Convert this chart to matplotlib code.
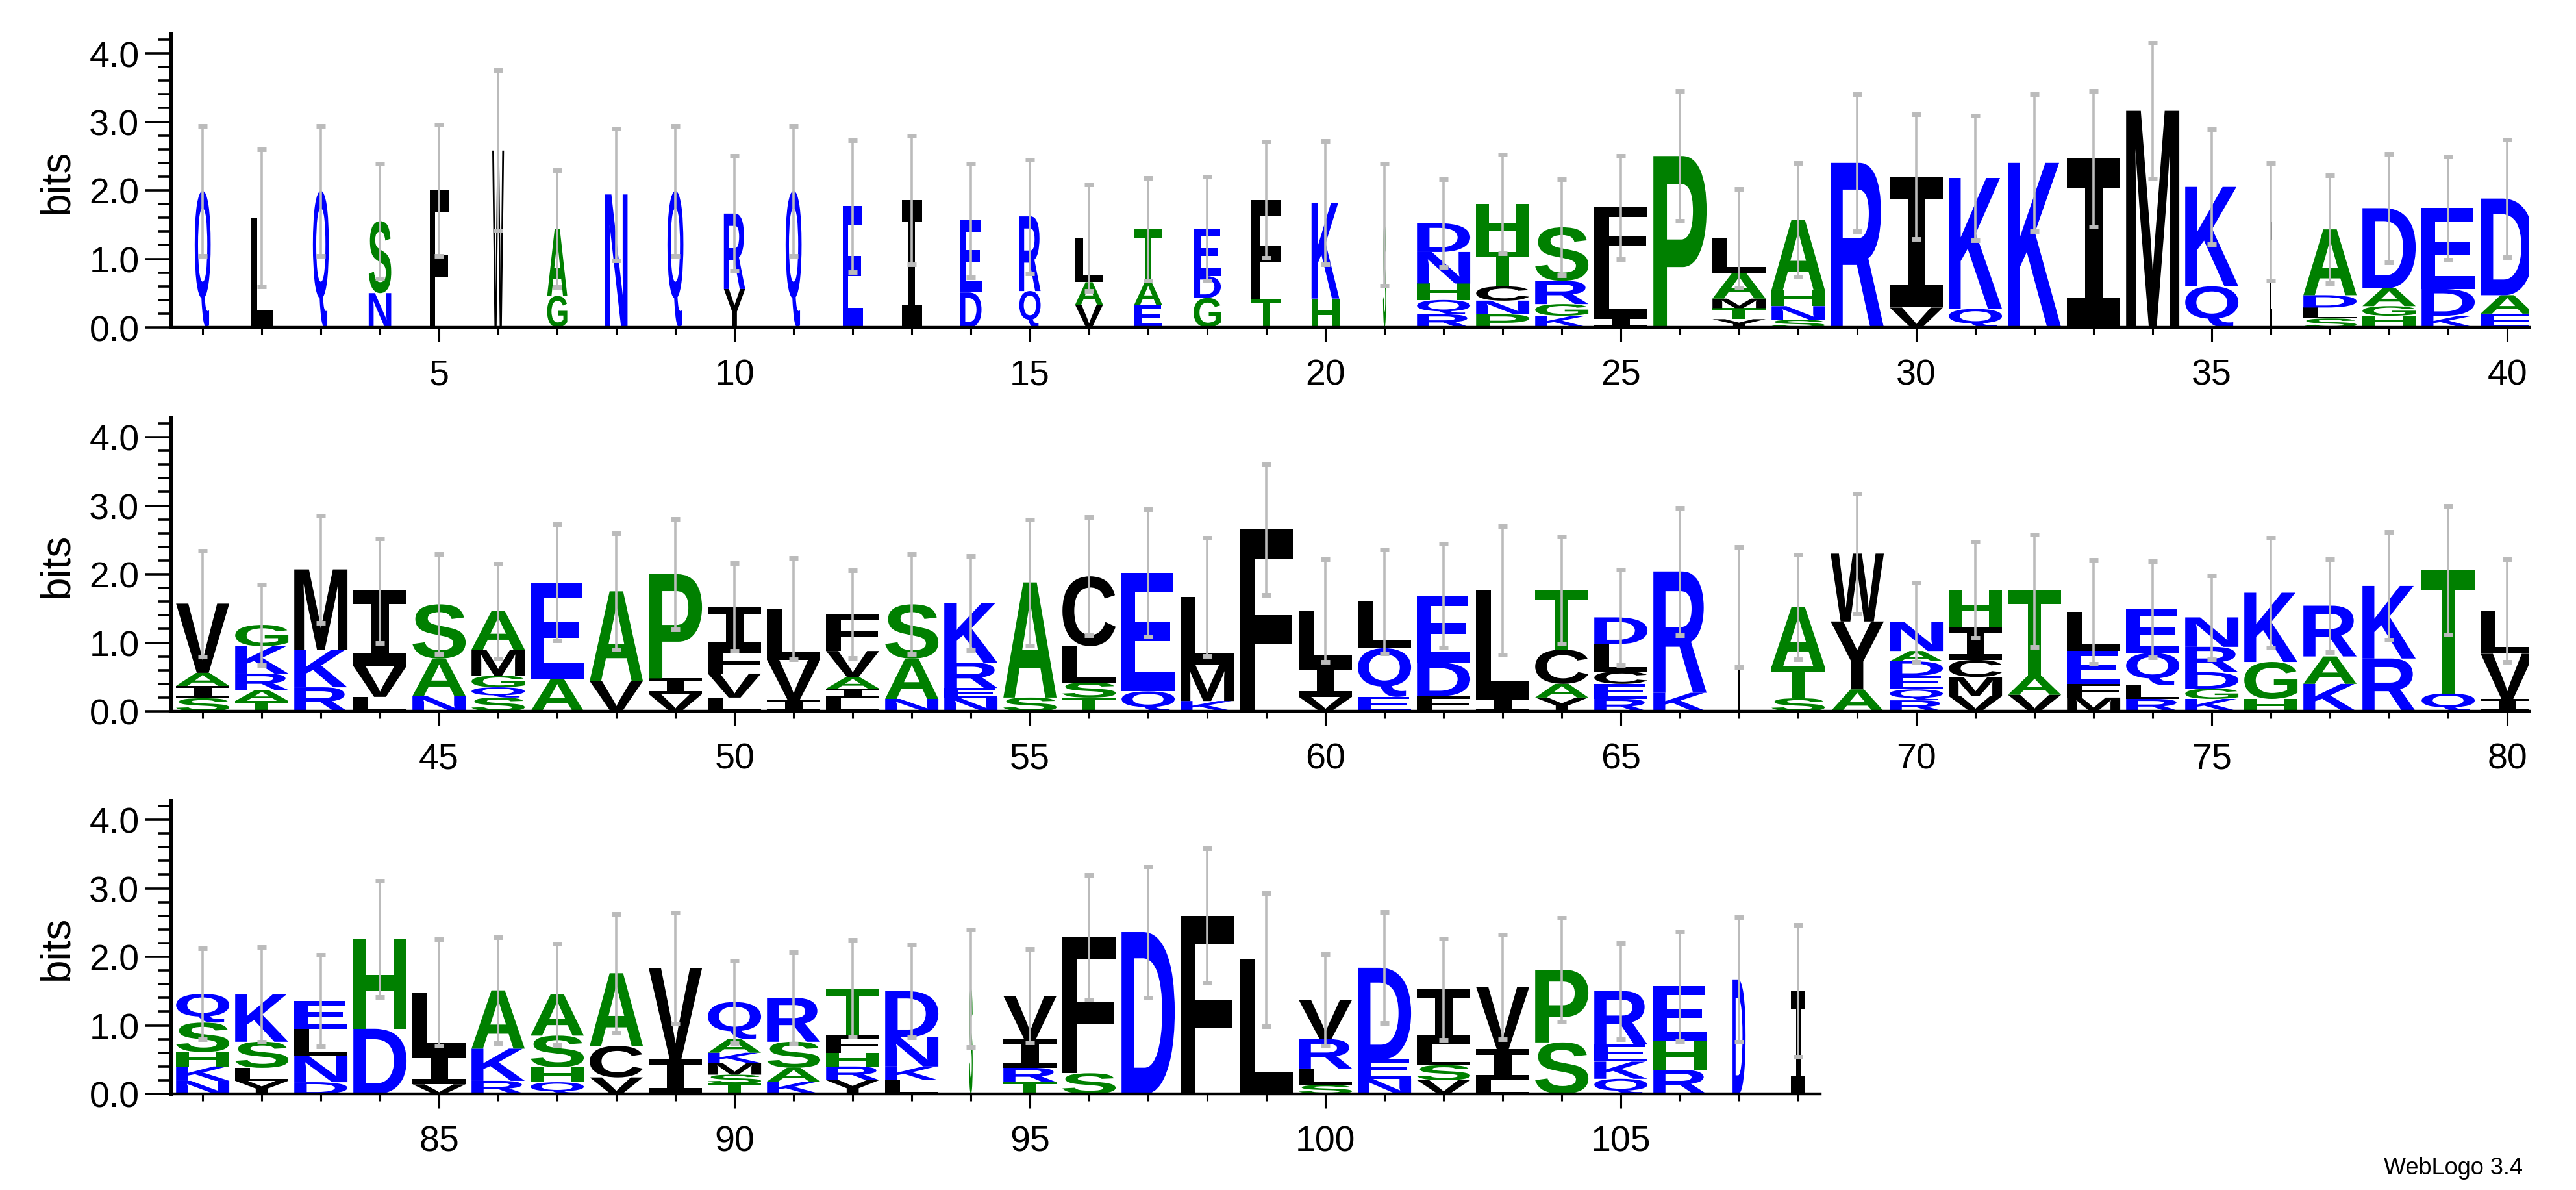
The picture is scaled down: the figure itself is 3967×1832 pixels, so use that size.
import matplotlib
matplotlib.use('Agg')
import matplotlib.pyplot as plt
from matplotlib.textpath import TextPath
from matplotlib.patches import PathPatch
from matplotlib.font_manager import FontProperties
from matplotlib.transforms import Affine2D
from matplotlib.ticker import MultipleLocator

# stacks: letters bottom->top, with cumulative top (bits) of each letter
letters = [
    "Q", "L", "Q", "NS", "F", "W", "GA", "N", "Q", "YR",
    "Q", "E", "I", "DE", "QR", "VAL", "EAT", "GDE", "TF", "HK",
    "S", "RQHND", "PNCTH", "KGRS", "ILF", "P", "YTMAL", "SNHA", "R", "VI",
    "QK", "K", "I", "M", "QK", "I", "SLDA", "HGAD", "KDE", "EAD",
    "SIAV", "TARKG", "RKM", "LVI", "NAS", "SQGMA", "AE", "VA", "VIP", "LVFI",
    "IVL", "LIAVF", "NAS", "NERK", "SA", "TSLC", "QE", "KML", "F", "VIL",
    "EQL", "FDE", "IL", "YACT", "RECLD", "KR", "I", "STA", "AYW", "RQEDAN",
    "VMCIH", "VAT", "MFEL", "RLQE", "KGDRN", "HGK", "KAR", "RK", "QT", "IVL",
    "NKHSQ", "YLSK", "DNLE", "DH", "VIL", "RKA", "QHSA", "VCA", "IV", "TSMKAQ",
    "KASR", "YRHFT", "LKND", "S", "TRIV", "SF", "D", "F", "L", "SLRV",
    "NED", "VSLI", "LIV", "SP", "QKER", "RHE", "D", "I",
]
tops = [
    [1.99], [1.6], [1.99], [0.5, 1.55], [2.0], [2.58], [0.46, 1.44], [1.94], [1.99], [0.56, 1.66],
    [1.99], [1.77], [1.86], [0.51, 1.56], [0.53, 1.62], [0.33, 0.66, 1.31], [0.33, 0.66, 1.43], [0.43, 0.75, 1.44], [0.42, 1.86], [0.42, 1.82],
    [1.5], [0.19, 0.4, 0.64, 1.1, 1.52], [0.19, 0.39, 0.6, 1.1, 1.8], [0.17, 0.34, 0.68, 1.46], [0.15, 0.87, 1.75], [2.5], [0.12, 0.28, 0.42, 0.8, 1.3], [0.11, 0.31, 0.55, 1.57], [2.4], [0.29, 2.2],
    [0.27, 2.18], [2.4], [2.46], [3.16], [0.6, 2.05], [1.54], [0.13, 0.29, 0.47, 1.43], [0.17, 0.31, 0.57, 1.74], [0.17, 0.56, 1.74], [0.2, 0.47, 1.88],
    [0.19, 0.37, 0.56, 1.57], [0.15, 0.31, 0.55, 0.95, 1.26], [0.35, 0.9, 2.07], [0.21, 0.66, 1.76], [0.22, 0.77, 1.56], [0.2, 0.35, 0.52, 0.9, 1.46], [0.47, 1.88], [0.44, 1.75], [0.25, 0.48, 2.0], [0.2, 0.55, 0.9, 1.52],
    [0.16, 0.75, 1.5], [0.2, 0.33, 0.5, 0.88, 1.42], [0.18, 0.77, 1.56], [0.2, 0.34, 0.71, 1.58], [0.2, 1.88], [0.2, 0.42, 0.95, 1.97], [0.29, 2.02], [0.15, 0.68, 1.67], [2.65], [0.21, 0.69, 1.47],
    [0.21, 0.92, 1.6], [0.22, 0.71, 1.69], [0.19, 1.76], [0.2, 0.4, 0.9, 1.77], [0.18, 0.4, 0.58, 0.98, 1.37], [0.27, 2.04], [1.52], [0.19, 0.65, 1.52], [0.32, 1.31, 2.3], [0.16, 0.32, 0.52, 0.73, 0.88, 1.3],
    [0.22, 0.5, 0.75, 1.23, 1.77], [0.24, 0.52, 1.76], [0.2, 0.4, 0.88, 1.45], [0.18, 0.38, 0.85, 1.49], [0.18, 0.33, 0.57, 0.94, 1.37], [0.18, 0.72, 1.73], [0.4, 0.8, 1.54], [0.77, 1.83], [0.26, 2.06], [0.18, 0.84, 1.47],
    [0.19, 0.4, 0.61, 1.04, 1.46], [0.19, 0.38, 0.76, 1.45], [0.17, 0.55, 0.95, 1.36], [0.95, 2.26], [0.14, 0.6, 1.48], [0.19, 0.66, 1.51], [0.17, 0.39, 0.85, 1.45], [0.24, 0.7, 1.76], [0.51, 1.83], [0.15, 0.28, 0.45, 0.6, 0.8, 1.34],
    [0.18, 0.38, 0.76, 1.4], [0.2, 0.4, 0.6, 0.85, 1.54], [0.2, 0.4, 0.83, 1.5], [1.54], [0.17, 0.38, 0.8, 1.43], [0.3, 2.28], [2.36], [2.6], [1.96], [0.13, 0.37, 0.8, 1.37],
    [0.22, 0.5, 1.84], [0.2, 0.42, 0.72, 1.53], [0.2, 0.65, 1.56], [0.75, 1.81], [0.22, 0.47, 0.72, 1.5], [0.35, 0.77, 1.57], [1.67], [1.5],
]
err_top = [
    2.94, 2.6, 2.94, 2.39, 2.96, 3.75, 2.29, 2.9, 2.94, 2.5,
    2.94, 2.73, 2.8, 2.39, 2.45, 2.09, 2.18, 2.2, 2.71, 2.72,
    2.39, 2.16, 2.52, 2.16, 2.5, 3.45, 2.02, 2.4, 3.4, 3.11,
    3.09, 3.4, 3.45, 4.15, 2.89, 2.4, 2.22, 2.53, 2.49, 2.74,
    2.34, 1.85, 2.85, 2.52, 2.29, 2.15, 2.73, 2.6, 2.81, 2.16,
    2.24, 2.06, 2.29, 2.27, 2.8, 2.83, 2.95, 2.53, 3.6, 2.22,
    2.36, 2.45, 2.7, 2.55, 2.07, 2.97, 2.4, 2.28, 3.18, 1.88,
    2.47, 2.58, 2.21, 2.19, 1.98, 2.53, 2.22, 2.62, 3.0, 2.22,
    2.12, 2.14, 2.03, 3.11, 2.26, 2.28, 2.19, 2.63, 2.64, 1.94,
    2.07, 2.25, 2.18, 2.4, 2.11, 3.19, 3.32, 3.58, 2.93, 2.04,
    2.65, 2.27, 2.32, 2.57, 2.2, 2.37, 2.58, 2.46,
]
# stack widths (positions units); columns with fewer sequences are drawn narrower
first_widths = [0.27, 0.38, 0.27, 0.38, 0.32, 0.2, 0.34, 0.38, 0.27, 0.36,
                0.27, 0.34, 0.34, 0.36, 0.36, 0.47, 0.47, 0.46, 0.5, 0.47]
narrow = {21: 0.05, 36: 0.05, 67: 0.05, 94: 0.06, 107: 0.22, 108: 0.24}

colors = {}
for c in "DEKNQR":
    colors[c] = '#0000FF'
for c in "AGHPST":
    colors[c] = '#008000'
for c in "CFILMVWY":
    colors[c] = '#000000'

fp = FontProperties(family='Liberation Sans', weight='bold')
fp_i = FontProperties(family='DejaVu Sans Mono', weight='bold')
glyphs = {}


def stack_width(p):
    if p <= len(first_widths):
        return first_widths[p - 1]
    return narrow.get(p, 0.9)


def draw_letter(ax, ch, x, y0, w, h):
    if ch not in glyphs:
        path = TextPath((0, 0), ch, size=1, prop=fp_i if ch == 'I' else fp)
        glyphs[ch] = (path, path.get_extents())
    path, ext = glyphs[ch]
    tr = (Affine2D().translate(-ext.x0, -ext.y0)
          .scale(w / ext.width, h / ext.height)
          .translate(x - w / 2, y0))
    ax.add_patch(PathPatch(tr.transform_path(path), fc=colors[ch], ec='none', lw=0))


W, H = 3967, 1833
fig = plt.figure(figsize=(W / 100, H / 100), dpi=100)

ppb = 105.5  # pixels per bit
ppp = 91.0   # pixels per position
rows = [(1, 40, 505), (41, 80, 1096), (81, 108, 1685)]

for first, last, base in rows:
    x0, x1 = first - 0.54, last + 0.37
    ymax = 4.28
    ax = fig.add_axes([263 / W, 1 - base / H, (x1 - x0) * ppp / W, ymax * ppb / H])
    ax.set_xlim(x0, x1)
    ax.set_ylim(0, ymax)
    for p in range(first, last + 1):
        i = p - 1
        w = stack_width(p)
        prev = 0.0
        for ch, t in zip(letters[i], tops[i]):
            if t - prev > 0.005:
                draw_letter(ax, ch, p, prev, w, t - prev)
            prev = t
        total = tops[i][-1]
        e = err_top[i] - total
        ax.plot([p, p], [total - e, total + e], color='#BBBBBB', lw=2.6,
                solid_capstyle='butt', zorder=5)
        for yy in (total - e, total + e):
            ax.plot([p - 0.08, p + 0.08], [yy, yy], color='#BBBBBB', lw=5,
                    solid_capstyle='butt', zorder=5)
    for s in ['top', 'right']:
        ax.spines[s].set_visible(False)
    ax.spines['left'].set_linewidth(3.6)
    ax.spines['bottom'].set_linewidth(3.2)
    ax.yaxis.set_minor_locator(MultipleLocator(0.2))
    ax.set_yticks([0, 1, 2, 3, 4])
    ax.set_yticklabels(['0.0', '1.0', '2.0', '3.0', '4.0'])
    ax.xaxis.set_major_locator(MultipleLocator(5))
    ax.xaxis.set_minor_locator(MultipleLocator(1))
    ax.tick_params(axis='y', which='major', length=29, width=2.6, labelsize=40, pad=6)
    ax.tick_params(axis='y', which='minor', length=14, width=2.6)
    ax.tick_params(axis='x', which='major', length=16, width=2.2, labelsize=40, pad=18)
    ax.tick_params(axis='x', which='minor', length=8, width=2.2)
    for lab in ax.get_xticklabels() + ax.get_yticklabels():
        lab.set_fontfamily('Liberation Sans')
    ax.set_ylabel('bits', fontsize=46, family='Liberation Sans', labelpad=14)

fig.text(3885 / W, 1 - 1808 / H, 'WebLogo 3.4', ha='right', va='baseline',
         fontsize=26, family='Liberation Sans')

fig.savefig('out.png', dpi=100)
